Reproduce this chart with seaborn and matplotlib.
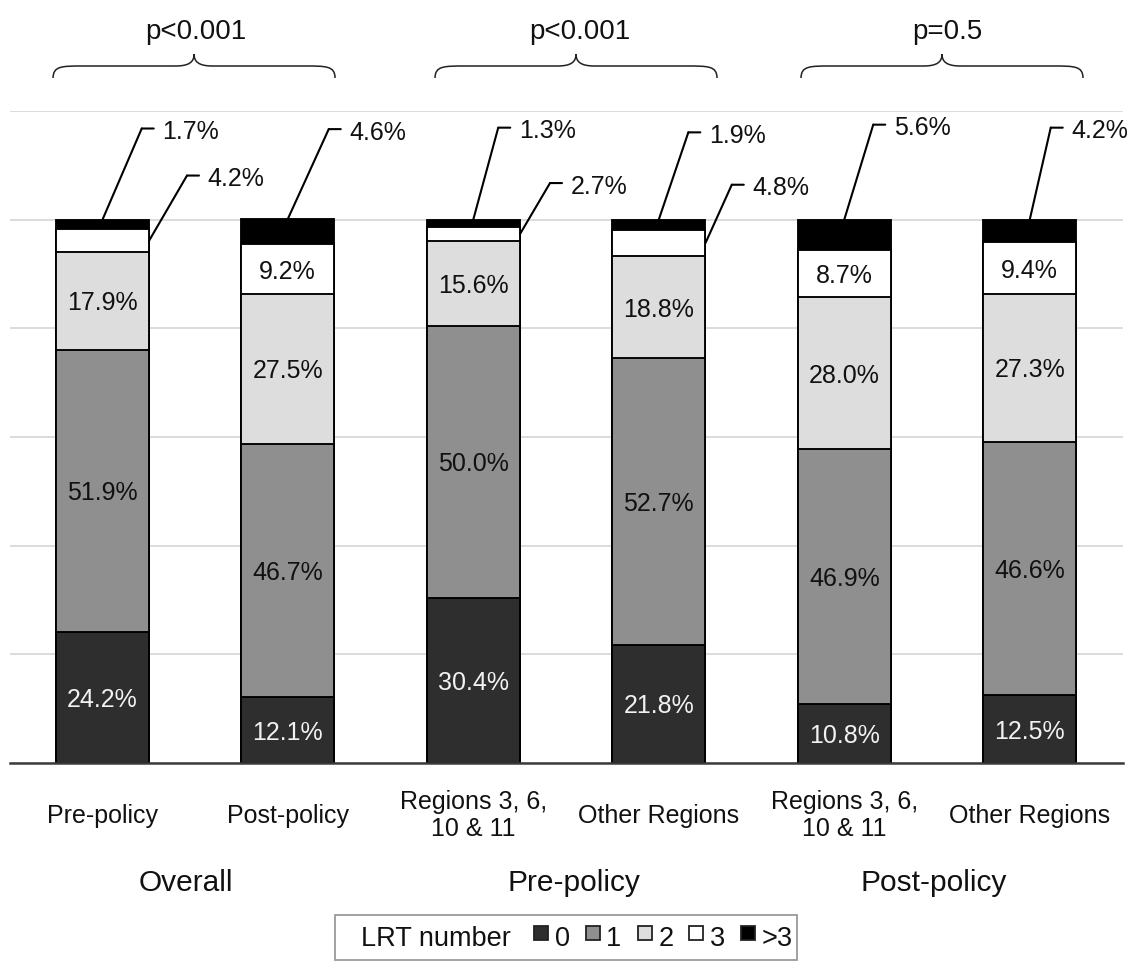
import numpy as np
import pandas as pd
import matplotlib
matplotlib.use("Agg")
import matplotlib.pyplot as plt
import matplotlib.transforms as mtransforms
from matplotlib.path import Path
from matplotlib.patches import PathPatch
from matplotlib.lines import Line2D
import seaborn as sns

# ---------------- data ----------------
bar_keys = ["ov_pre", "ov_post", "pre_r", "pre_o", "post_r", "post_o"]
tick_labels = ["Pre-policy", "Post-policy", "Regions 3, 6,\n10 & 11", "Other Regions",
               "Regions 3, 6,\n10 & 11", "Other Regions"]
group_labels = ["Overall", "Pre-policy", "Post-policy"]
p_values = ["p<0.001", "p<0.001", "p=0.5"]
levels = ["0", "1", "2", "3", ">3"]
lrt0 = [24.2, 12.1, 30.4, 21.8, 10.8, 12.5]
lrt1 = [51.9, 46.7, 50.0, 52.7, 46.9, 46.6]
lrt2 = [17.9, 27.5, 15.6, 18.8, 28.0, 27.3]
lrt3 = [4.2, 9.2, 2.7, 4.8, 8.7, 9.4]
lrt_gt3 = [1.7, 4.6, 1.3, 1.9, 5.6, 4.2]

colors = ["#2e2e2e", "#8f8f8f", "#dddddd", "#ffffff", "#000000"]

# ---------------- style ----------------
sns.set_theme(style="white")
plt.rcParams["font.family"] = ["Liberation Sans", "DejaVu Sans"]

W, H = 1132, 968
fig = plt.figure(figsize=(W / 100, H / 100), dpi=100)
ax_l, ax_r, ax_b, ax_t = 9.5, 1122.5, 763, 111
ax = fig.add_axes([ax_l / W, 1 - ax_b / H, (ax_r - ax_l) / W, (ax_b - ax_t) / H])

vals = np.array([lrt0, lrt1, lrt2, lrt3, lrt_gt3])
cum = vals.cumsum(axis=0)
df = pd.DataFrame({"bar": np.tile(bar_keys, 5),
                   "level": np.repeat(levels, 6),
                   "value": vals.ravel(),
                   "cum": cum.ravel()})

bar_w = 0.504
edge_lw = 1.35
# draw cumulative bars from tallest to shortest -> stacked look
for k in range(4, -1, -1):
    sub = df[df["level"] == levels[k]]
    sns.barplot(data=sub, x="bar", y="cum", order=bar_keys, color=colors[k],
                saturation=1, width=bar_w, edgecolor="black", linewidth=edge_lw,
                errorbar=None, ax=ax, zorder=3)

ax.set_xlim(-0.5, 5.5)
ax.set_ylim(0, 120)
ax.set_yticks(np.arange(0, 121, 20))
ax.tick_params(axis="y", length=0, labelleft=False)
ax.grid(axis="y", color="#d9d9d9", lw=1.3, zorder=0)
ax.set_axisbelow(True)
for s in ["left", "right", "top"]:
    ax.spines[s].set_visible(False)
ax.spines["bottom"].set_color("#3c3c3c")
ax.spines["bottom"].set_linewidth(1.8)
ax.spines["bottom"].set_zorder(5)
ax.set_xlabel("")
ax.set_ylabel("")
ax.set_xticks(range(6))
ax.set_xticklabels(tick_labels, fontsize=18, color="#111111", linespacing=1.15)
ax.tick_params(axis="x", length=0, pad=38)
for lab in ax.get_xticklabels():
    lab.set_va("center")

lab_fs = 18
# in-bar labels
for i in range(6):
    for k in range(4):
        v = vals[k, i]
        if k == 3 and v < 6:
            continue
        mid = cum[k, i] - v / 2
        ax.text(i, mid, f"{v:.1f}%", ha="center", va="center_baseline",
                fontsize=lab_fs, color="#f2f2f2" if k == 0 else "#111111", zorder=6)

# callouts
def callout(x, y, dx, dy, text):
    el = mtransforms.offset_copy(ax.transData, fig=fig, x=dx, y=dy, units="dots")
    ap = dict(arrowstyle="-", lw=1.5, color="black", shrinkA=0, shrinkB=0)
    ax.annotate("", xy=(x, y), xycoords="data", xytext=(x, y), textcoords=el,
                arrowprops=ap, annotation_clip=False)
    ax.annotate("", xy=(x, y), xycoords=el, xytext=(12, 0), textcoords="offset pixels",
                arrowprops=ap, annotation_clip=False)
    ax.annotate(text, xy=(x, y), xycoords=el, xytext=(20.5, -10.7),
                textcoords="offset pixels", ha="left", va="baseline",
                fontsize=lab_fs, color="#111111", annotation_clip=False)

top_offsets = [(39.5, 91.7), (41, 90), (25, 92), (29.6, 87.3), (29, 95), (21, 92)]
for i in range(6):
    callout(i, cum[4, i], *top_offsets[i], f"{vals[4, i]:.1f}%")
seg3_offsets = {0: (38, 65.3), 2: (30, 51), 3: (26.3, 58.3)}
for i, off in seg3_offsets.items():
    mid = cum[3, i] - vals[3, i] / 2
    callout(i + bar_w / 2, mid, *off, f"{vals[3, i]:.1f}%")

# braces + p-values
ppx = (ax_b - ax_t) / 120.0
def px2y(py):
    return (ax_b - py) / ppx

def brace(xc, half, y_end, y_flat, y_tip, dx_end=0.16, dx_tip=0.1):
    x0, x1 = xc - half, xc + half
    ym = y_flat + (y_tip - y_flat) * 0.35
    verts = [(x0, y_end),
             (x0, y_flat), (x0 + dx_end * 0.3, y_flat), (x0 + dx_end, y_flat),
             (xc - dx_tip, y_flat),
             (xc - dx_tip * 0.25, y_flat), (xc, ym), (xc, y_tip),
             (xc, ym), (xc + dx_tip * 0.25, y_flat), (xc + dx_tip, y_flat),
             (x1 - dx_end, y_flat),
             (x1 - dx_end * 0.3, y_flat), (x1, y_flat), (x1, y_end)]
    codes = ([Path.MOVETO] + [Path.CURVE4] * 3 + [Path.LINETO] + [Path.CURVE4] * 6
             + [Path.LINETO] + [Path.CURVE4] * 3)
    ax.add_patch(PathPatch(Path(verts, codes), fill=False, lw=1.1, ec="#222222",
                           clip_on=False, zorder=6))

brace_centers = [0.495, 2.554, 4.527]
p_centers = [0.505, 2.576, 4.554]
for bc, pc, pv in zip(brace_centers, p_centers, p_values):
    brace(bc, 0.76, px2y(78), px2y(66), px2y(54))
    ax.text(pc, px2y(39), pv, ha="center", va="baseline", fontsize=20,
            color="#111111", clip_on=False)

# group labels
blend = mtransforms.blended_transform_factory(ax.transData, fig.transFigure)
group_centers = [0.452, 2.543, 4.484]
for gc, gl in zip(group_centers, group_labels):
    ax.text(gc, 1 - 891 / H, gl, transform=blend, ha="center", va="baseline",
            fontsize=21.5, color="#111111")

# legend
handles = [Line2D([], [], ls="", marker="s", markersize=0, alpha=0, label="LRT number ")]
for c, l in zip(colors, levels):
    handles.append(Line2D([], [], ls="", marker="s", markersize=10.5, markerfacecolor=c,
                          markeredgecolor="#222222", markeredgewidth=1.3, label=l))
leg = fig.legend(handles=handles, loc="upper center", bbox_to_anchor=(566 / W, 1 - 915 / H),
                 ncol=6, frameon=True, fancybox=False, edgecolor="#808080", fontsize=19.5,
                 handlelength=0.6, handleheight=1.7, handletextpad=0.2, columnspacing=0.55,
                 borderpad=0.15, borderaxespad=0)
leg.get_frame().set_linewidth(1.3)
for t in leg.get_texts():
    t.set_color("#111111")

fig.savefig("out.png", dpi=100, facecolor="white")
